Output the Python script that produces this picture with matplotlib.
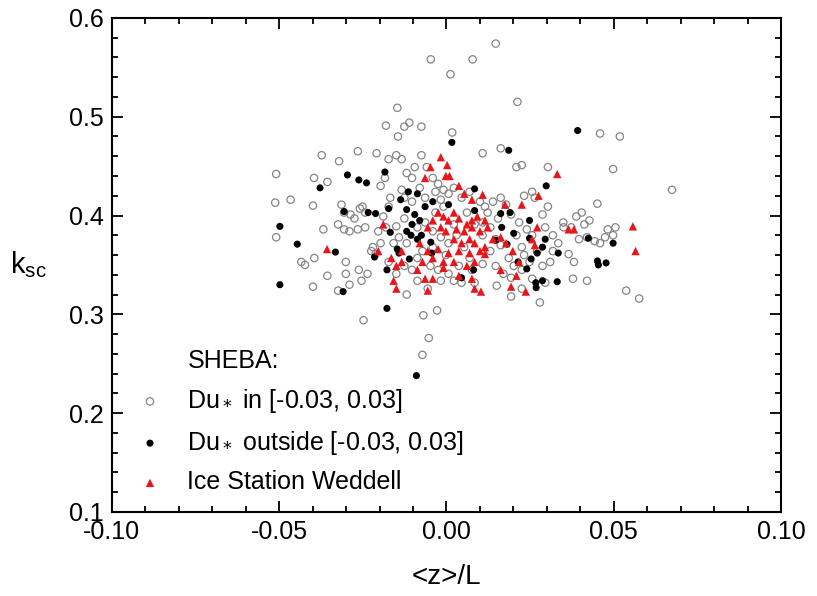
import matplotlib
matplotlib.use("Agg")
import matplotlib.pyplot as plt
from matplotlib.ticker import MultipleLocator, FormatStrFormatter

plt.rcParams['font.family'] = ['Liberation Sans', 'DejaVu Sans']

# SHEBA, Du* inside [-0.03, 0.03]  (x in units of 0.001, y in units of 0.001)
sheba_in_x = [
    14.7, -4.7, 7.8, 1.2, 21.2, -14.7, -11.1, -12.6, -18.1, -7.5, 1.7, -14.5, 45.9, 51.8,
    67.4, 49.8, 30.3, 20.9, 22.5, 16.2, 10.8, -50.9, -51.2, -50.9, -46.6, -39.6, -37.3,
    -35.6, -32.1, -26.5, -20.9, -39.9, -36.8, -32.4, -43.4, -42.3, -39.5, -39.9, -35.6,
    -32.4, -30.1, -30.1, -29.0, -26.2, -25.4, -24.8, -23.6, -31.4, -30.6, -28.7, -27.5,
    -25.9, -25.1, -24.3, -30.6, -29.0, -26.5, -24.3, -22.0, -22.5, -21.2, -18.9, -18.1,
    -17.3, -16.8, -19.7, -18.4, -17.3, -15.0, -13.4, -11.9, -10.3, -9.5, -7.5, -5.9,
    -4.1, -2.5, -0.9, 0.6, -6.9, -2.8, -5.3, -7.2, -11.9, -8.7, -5.6, -1.7, 2.2, 4.5,
    8.4, 15.0, 19.3, 22.5, 27.9, 25.6, 29.5, 34.9, 37.3, 38.8, 40.4, 41.2, 39.6, 42.0,
    44.3, 45.9, 47.4, 48.2, 49.8, 50.5, 45.1, 42.7, 36.5, 38.1, 42.0, 37.8, 53.7, 57.6,
    33.4, 31.8, 31.0, 28.7, 30.3, 28.7, 25.6, 23.2, 26.4, 19.3, 21.7, 24.0, 25.6, 22.5,
    18.6, 20.1, 22.5, 24.8, 27.1, 16.2, 14.7, 13.1, 10.8, 12.3, 13.9, 16.2, 17.8, 14.7,
    17.0, 19.3, -13.4, -12.6, -10.3, -8.0, -6.4, -3.3, -1.7, 2.2, 4.5, 6.9, 10.0, 11.5,
    -12.6, -15.0, -14.2, -11.9, -15.8, -8.7, -6.4, -4.1, -1.7, 0.6, 3.0, 5.3, 2.2, -3.3,
    -0.9, 6.1, 8.4, 10.8, 13.1, 10.8, 6.9, 3.7, 0.6, -2.5, -4.8, -8.7, -10.3, -12.6,
    -15.0, -17.3, -19.7, -20.4, -7.2, -0.2, -4.1, 7.6, 15.4, 20.9, 23.2, 29.5, 31.8, 35.0,
]
sheba_in_y = [
    574, 558, 558, 543, 515, 509, 494, 490, 491, 490, 484, 480, 483, 480,
    426, 447, 449, 449, 451, 468, 463, 442, 413, 378, 416, 438, 461,
    434, 455, 465, 463, 410, 386, 391, 353, 350, 357, 328, 339,
    324, 341, 353, 330, 345, 334, 294, 341, 411, 403, 401, 397,
    407, 409, 403, 386, 384, 386, 388, 368, 364, 361, 399, 388,
    409, 418, 430, 438, 457, 461, 457, 443, 438, 449, 461, 449,
    438, 432, 426, 422, 299, 304, 276, 259, 320, 334, 326, 334, 334, 332,
    332, 329, 318, 326, 312, 336, 332, 393, 388, 399, 403, 391, 376, 378,
    374, 372, 378, 386, 380, 388, 412, 395, 361, 353, 334, 336, 324, 316,
    372, 364, 353, 349, 409, 401, 424, 420, 418, 401, 393, 386, 380, 368,
    357, 349, 345, 353, 364, 370, 376, 388, 393, 403, 414, 418, 411, 349,
    341, 337, 426, 418, 414, 428, 418, 424, 416, 428, 418, 424, 414, 409,
    397, 389, 378, 372, 372, 388, 393, 384, 378, 372, 380, 368, 391, 403,
    409, 403, 391, 380, 364, 351, 357, 349, 341, 345, 349, 357, 345, 349,
    341, 353, 372, 384, 364, 360, 368, 345, 397, 380, 360, 388, 380, 388,
]

# SHEBA, Du* outside [-0.03, 0.03]
sheba_out_x = [
    39.2, 1.6, 18.6, -29.6, -26.2, -23.9, -18.4, -37.8, 29.8, 8.4, -13.7, -11.4, -8.7,
    -4.1, 0.6, -30.6, -23.4, -21.2, -17.3, -11.9, -9.5, -6.4, -8.0, -10.3, -11.9, -10.6,
    -8.7, -7.5, -16.8, 8.4, 16.2, 19.0, 24.8, 16.5, 20.1, -49.8, -44.6, -33.2, -14.7,
    -14.2, -21.5, -11.1, -4.7, -4.4, 14.7, 18.1, 24.8, 29.5, 28.7, 27.1, 33.4, 42.4,
    49.8, 45.1, 45.4, 47.7, 24.0, 21.4, 25.3, 8.1, 4.5, -17.8, -49.8, -30.9, -17.8,
    -9.0, 26.7, 26.8, 28.7, 33.1,
]
sheba_out_y = [
    486, 474, 466, 441, 436, 433, 444, 428, 430, 427, 416, 424, 422,
    414, 411, 404, 403, 402, 407, 406, 401, 409, 395, 391, 384, 380,
    376, 380, 383, 405, 402, 403, 395, 388, 382, 389, 371, 363, 366,
    362, 358, 356, 373, 362, 375, 371, 377, 376, 368, 362, 362, 377,
    372, 354, 350, 352, 346, 353, 356, 345, 337, 345, 330, 323, 306,
    238, 332, 327, 334, 333,
]

# Ice Station Weddell
isw_x = [
    -1.7, -4.8, 0.2, -0.2, 0.9, -6.4, 3.7, 33.1, 5.3, 7.6, 10.8, 27.5, 17.5, 22.5,
    -18.9, -20.4, -35.7, -2.5, -0.9, 0.6, 2.2, 3.7, 6.1, 7.6, 9.2, -4.1, -5.6, -1.7,
    -0.2, 3.0, 5.3, 7.6, 11.5, 10.0, 12.3, 16.2, 2.2, 6.9, 4.5, 8.4, 11.5, 13.9, -8.0,
    -5.6, -2.5, 0.6, 3.7, 6.9, 10.0, 11.5, -7.2, -4.1, -0.9, 2.2, 6.1, 8.4, -13.4,
    -15.0, -13.4, -16.5, -15.8, -15.0, -5.6, -4.1, 3.7, 7.6, 10.3, 8.4, 19.3, 23.7,
    20.9, 21.7, 26.4, 27.1, 25.6, 36.5, 38.1, 55.7, 56.5, 17.8, 19.8, -8.7, -6.4,
    -0.9, 16.2,
]
isw_y = [
    459, 449, 451, 440, 440, 438, 430, 442, 422, 416, 421, 420, 411, 411,
    391, 364, 366, 403, 399, 395, 403, 397, 391, 395, 399, 395, 388, 388,
    384, 386, 384, 388, 395, 384, 388, 378, 376, 376, 372, 372, 368, 376, 372,
    364, 366, 362, 364, 362, 364, 361, 353, 357, 353, 353, 349, 353, 353,
    349, 364, 357, 334, 326, 324, 336, 339, 336, 323, 326, 328, 323,
    339, 353, 370, 388, 376, 386, 386, 389, 364, 372, 364, 345, 336,
    347, 345,
]


def scaled(vals):
    return [v / 1000.0 for v in vals]


def main():
    fig = plt.figure(figsize=(8.17, 5.96), dpi=100)
    ax = fig.add_axes([0.137, 0.141, 0.819, 0.829])

    ax.scatter(scaled(sheba_in_x), scaled(sheba_in_y), s=28, facecolors='none',
               edgecolors='#858585', linewidths=0.9, label='Du$_*$ in [-0.03, 0.03]', zorder=2)
    ax.scatter(scaled(sheba_out_x), scaled(sheba_out_y), s=26, c='black',
               edgecolors='none', label='Du$_*$ outside [-0.03, 0.03]', zorder=3)
    ax.scatter(scaled(isw_x), scaled(isw_y), s=36, c='#e8161b', marker='^',
               edgecolors='none', label='Ice Station Weddell', zorder=4)

    ax.set_xlim(-0.10, 0.10)
    ax.set_ylim(0.1, 0.6)
    ax.xaxis.set_major_locator(MultipleLocator(0.05))
    ax.xaxis.set_minor_locator(MultipleLocator(0.01))
    ax.yaxis.set_major_locator(MultipleLocator(0.1))
    ax.yaxis.set_minor_locator(MultipleLocator(0.02))
    ax.xaxis.set_major_formatter(FormatStrFormatter('%.2f'))
    ax.yaxis.set_major_formatter(FormatStrFormatter('%.1f'))
    ax.tick_params(which='both', direction='in', top=True, right=True, width=1.3)
    ax.tick_params(which='major', length=8, labelsize=18, pad=6)
    ax.tick_params(which='minor', length=4)
    for sp in ax.spines.values():
        sp.set_linewidth(1.5)

    ax.set_xlabel('<z>/L', fontsize=20, labelpad=14)
    ax.set_ylabel('k$_{\\mathregular{sc}}$', fontsize=21, rotation=0)
    ax.yaxis.set_label_coords(-0.125, 0.47)

    handles, labels = ax.get_legend_handles_labels()
    blank = plt.Line2D([], [], linestyle='none', marker=None)
    ax.legend([blank] + handles, ['SHEBA:'] + labels, loc='lower left',
              bbox_to_anchor=(0.012, 0.0), frameon=False, fontsize=18,
              handlelength=1.0, handletextpad=1.0, labelspacing=0.55,
              scatterpoints=1, borderaxespad=0.3)

    fig.savefig('out.png', dpi=100)


if __name__ == "__main__":
    main()
